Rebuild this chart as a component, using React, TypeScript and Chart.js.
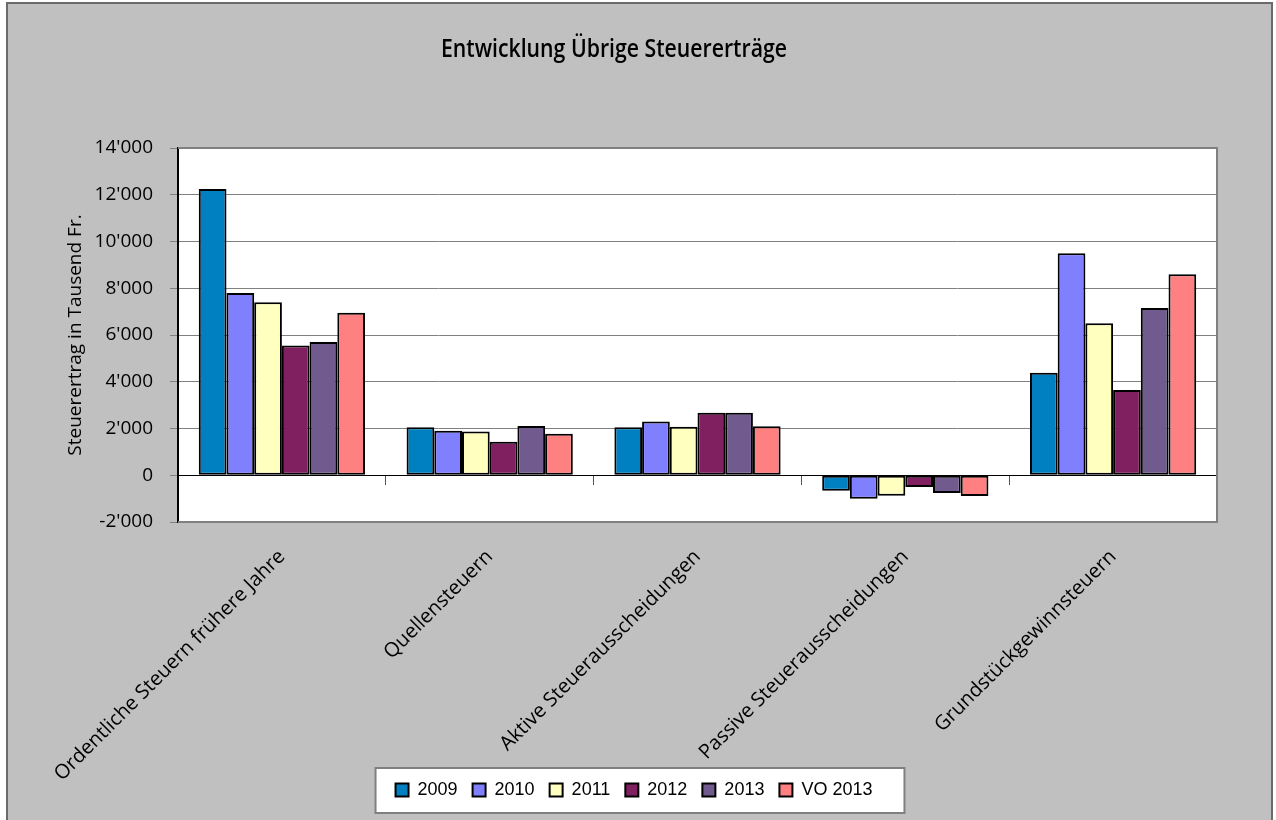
import { useEffect, useRef } from "react";
import { Chart, registerables } from "chart.js";

Chart.register(...registerables);

const TITLE = "Entwicklung Übrige Steuererträge";
const Y_TITLE = "Steuerertrag in Tausend Fr.";

const categories = [
  "Ordentliche Steuern frühere Jahre",
  "Quellensteuern",
  "Aktive Steuerausscheidungen",
  "Passive Steuerausscheidungen",
  "Grundstückgewinnsteuern",
];

const seriesNames = ["2009", "2010", "2011", "2012", "2013", "VO 2013"];

const values2009 = [12250, 2050, 2050, -660, 4380];
const values2010 = [7800, 1900, 2300, -1000, 9500];
const values2011 = [7400, 1870, 2070, -880, 6500];
const values2012 = [5550, 1430, 2670, -500, 3650];
const values2013 = [5700, 2110, 2670, -760, 7150];
const valuesVO2013 = [6950, 1780, 2100, -890, 8600];

const seriesColors = ["#0080C0", "#8080FF", "#FFFFC0", "#802060", "#705A8E", "#FF8080"];

const Y_MIN = -2000;
const Y_MAX = 14000;
const Y_STEP = 2000;

const fmt = (v: number) => {
  const s = Math.abs(v)
    .toString()
    .replace(/\B(?=(\d{3})+(?!\d))/g, "'");
  return (v < 0 ? "-" : "") + s;
};

const backgroundPlugin = {
  id: "bgPanel",
  afterLayout(chart: any) {
    // let rotated category labels run past the scale box instead of being clipped
    const x = chart.scales.x;
    if (x) x.bottom = chart.height;
  },
  beforeDraw(chart: any) {
    const { ctx, width, height, chartArea: a } = chart;
    ctx.save();
    ctx.fillStyle = "#ffffff";
    ctx.fillRect(0, 0, width, height);
    ctx.fillStyle = "#c0c0c0";
    ctx.fillRect(6, 2, 1267, height);
    ctx.fillStyle = "#6a6a6a";
    ctx.fillRect(6, 2, 2, height);
    ctx.fillRect(6, 2, 1267, 2);
    ctx.fillRect(1271, 2, 2, height);
    ctx.fillStyle = "#ffffff";
    ctx.fillRect(a.left, a.top, a.right - a.left, a.bottom - a.top);
    const lg = chart.legend;
    if (lg && lg.legendHitBoxes && lg.legendHitBoxes.length) {
      const hb = lg.legendHitBoxes;
      const l = Math.min(...hb.map((h: any) => h.left));
      const r = Math.max(...hb.map((h: any) => h.left + h.width));
      const cy = hb[0].top + hb[0].height / 2;
      const x0 = l - 20;
      const x1 = r + 32;
      const y0 = cy - 22;
      const y1 = cy + 23;
      ctx.fillStyle = "#ffffff";
      ctx.fillRect(x0, y0, x1 - x0, y1 - y0);
      ctx.strokeStyle = "#808080";
      ctx.lineWidth = 2;
      ctx.strokeRect(x0, y0, x1 - x0, y1 - y0);
    }
    ctx.restore();
  },
};

const framePlugin = {
  id: "plotFrame",
  beforeDatasetsDraw(chart: any) {
    const { ctx, chartArea: a } = chart;
    ctx.save();
    ctx.strokeStyle = "#808080";
    ctx.lineWidth = 2;
    ctx.beginPath();
    ctx.moveTo(a.left, a.top);
    ctx.lineTo(a.right, a.top);
    ctx.lineTo(a.right, a.bottom);
    ctx.lineTo(a.left, a.bottom);
    ctx.stroke();
    ctx.restore();
  },
};

const titlePlugin = {
  id: "chartTitle",
  afterDraw(chart: any) {
    const { ctx } = chart;
    ctx.save();
    ctx.font = '600 25px "Open Sans"';
    ctx.fillStyle = "#000";
    ctx.textAlign = "center";
    ctx.textBaseline = "alphabetic";
    const w = ctx.measureText(TITLE).width;
    const sx = 346 / w;
    ctx.translate(614, 57);
    ctx.scale(sx, 1);
    ctx.fillText(TITLE, 0, 0);
    ctx.restore();
  },
};

export default function App() {
  const ref = useRef<HTMLCanvasElement | null>(null);

  useEffect(() => {
    if (!ref.current) return;
    const series = [values2009, values2010, values2011, values2012, values2013, valuesVO2013];
    const chart = new Chart(ref.current, {
      type: "bar",
      data: {
        labels: categories,
        datasets: series.map((d, i) => ({
          label: seriesNames[i],
          data: d,
          backgroundColor: seriesColors[i],
          borderColor: "#000000",
          borderWidth: 2,
          borderSkipped: false,
          barPercentage: 1.0,
          categoryPercentage: 0.8,
          xAxisID: "x",
          yAxisID: "y",
        })),
      },
      options: {
        responsive: false,
        animation: false,
        layout: { padding: { top: 148, left: 51, right: 59, bottom: 11 } },
        plugins: {
          title: { display: false },
          tooltip: { enabled: false },
          legend: {
            display: true,
            position: "bottom",
            maxHeight: 46,
            labels: {
              boxWidth: 13,
              boxHeight: 13,
              padding: 15,
              color: "#000",
              font: { family: '"Liberation Sans", Arial, sans-serif', size: 18 },
            },
          },
        },
        scales: {
          x: {
            type: "category",
            position: "bottom",
            grid: { display: false, drawTicks: false },
            border: { display: false },
            ticks: {
              autoSkip: false,
              maxRotation: 45,
              minRotation: 45,
              padding: 23,
              color: "#000",
              font: { family: '"Open Sans", sans-serif', size: 20 },
            },
            afterFit: (scale: any) => {
              scale.height = 244;
            },
          },
          x2: {
            type: "category",
            labels: categories,
            position: { y: 0 },
            grid: {
              drawOnChartArea: false,
              drawTicks: true,
              tickLength: 9,
              offset: true,
              color: "#555555",
            },
            border: { display: true, color: "#000000", width: 1 },
            ticks: { display: false },
          },
          y: {
            type: "linear",
            position: "left",
            min: Y_MIN,
            max: Y_MAX,
            ticks: {
              stepSize: Y_STEP,
              padding: 17,
              color: "#000",
              font: { family: '"Open Sans", sans-serif', size: 19 },
              callback: (v: any) => fmt(Number(v)),
            },
            grid: {
              color: (c: any) => (c.tick && c.tick.value === 0 ? "#000000" : "#808080"),
              lineWidth: 1,
              tickLength: 8,
              tickColor: "#808080",
            },
            border: { display: true, color: "#000000", width: 2 },
            title: {
              display: true,
              text: Y_TITLE,
              color: "#000",
              padding: { top: 13, bottom: 0 },
              font: { family: '"Open Sans", sans-serif', size: 19 },
            },
            afterFit: (scale: any) => {
              scale.width = 127;
            },
          },
        },
      },
      plugins: [backgroundPlugin, framePlugin, titlePlugin],
    } as any);
    return () => chart.destroy();
  }, []);

  return (
    <div style={{ position: "absolute", left: 0, top: 0, width: 1276, height: 820 }}>
      <canvas ref={ref} width={1276} height={820} style={{ display: "block", width: 1276, height: 820 }} />
    </div>
  );
}
